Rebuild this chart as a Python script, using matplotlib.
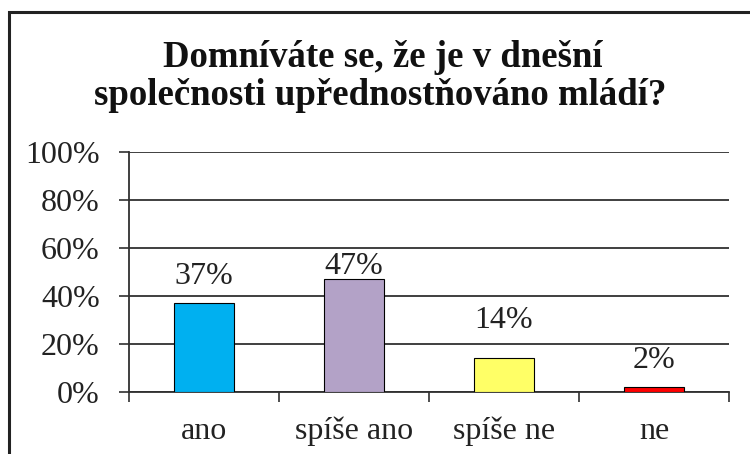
import matplotlib.pyplot as plt
from matplotlib.patches import Rectangle

plt.rcParams['font.family'] = 'serif'
plt.rcParams['font.serif'] = ['Liberation Serif', 'DejaVu Serif']

categories = ['ano', 'spíše ano', 'spíše ne', 'ne']
shares = [37, 47, 14, 2]
bar_colors = ['#00B0F0', '#B3A2C7', '#FFFF66', '#FF0000']
yticks = [0, 20, 40, 60, 80, 100]

# label baseline offsets above each bar top (points)
label_offsets = [13.5, 3.5, 22, 13.5]

fig = plt.figure(figsize=(7.5, 4.54), dpi=100)
ax = fig.add_axes([129 / 750, 62 / 454, 600 / 750, 240 / 454])

x = list(range(len(categories)))
ax.bar(x, shares, width=0.4, color=bar_colors, edgecolor='black', linewidth=0.8, zorder=3)

for xi, v, off in zip(x, shares, label_offsets):
    ax.annotate(f'{v}%', (xi, v), xytext=(0, off), textcoords='offset points',
                ha='center', va='baseline', fontsize=23, color='#222222')

ax.set_xlim(-0.5, len(categories) - 0.5)
ax.set_ylim(0, 100)

# category boundaries carry the ticks, names sit on minor ticks at the centres
ax.set_xticks([i - 0.5 for i in range(len(categories) + 1)])
ax.set_xticklabels([])
ax.set_xticks(x, minor=True)
ax.set_xticklabels(categories, minor=True, fontsize=23, color='#222222')
ax.tick_params(axis='x', which='major', length=7, width=1.2, color='#303030')
ax.tick_params(axis='x', which='minor', length=0, pad=18)

ax.set_yticks(yticks)
ax.set_yticklabels([f'{t}%' for t in yticks], fontsize=23, color='#222222')
ax.tick_params(axis='y', length=7, width=1.2, color='#303030', pad=14)

ax.grid(axis='y', color='#303030', linewidth=1.3, zorder=0)
ax.set_axisbelow(True)
for side in ['top', 'right']:
    ax.spines[side].set_visible(False)
for side in ['left', 'bottom']:
    ax.spines[side].set_color('#303030')
    ax.spines[side].set_linewidth(1.3)
ax.spines['left'].set_bounds(0, 100)

fig.text(0.511, 1 - 67 / 454, 'Domníváte se, že je v dnešní', ha='center', va='baseline',
         fontsize=26.5, fontweight='bold', color='#111111')
fig.text(0.507, 1 - 105 / 454, 'společnosti upřednostňováno mládí?', ha='center', va='baseline',
         fontsize=26.5, fontweight='bold', color='#111111')

fig.patches.append(Rectangle((9 / 750, -0.1), 1.2, 1.1 - 12 / 454, transform=fig.transFigure,
                             fill=False, edgecolor='#222222', linewidth=2.2))

fig.savefig('out.png', dpi=100)
